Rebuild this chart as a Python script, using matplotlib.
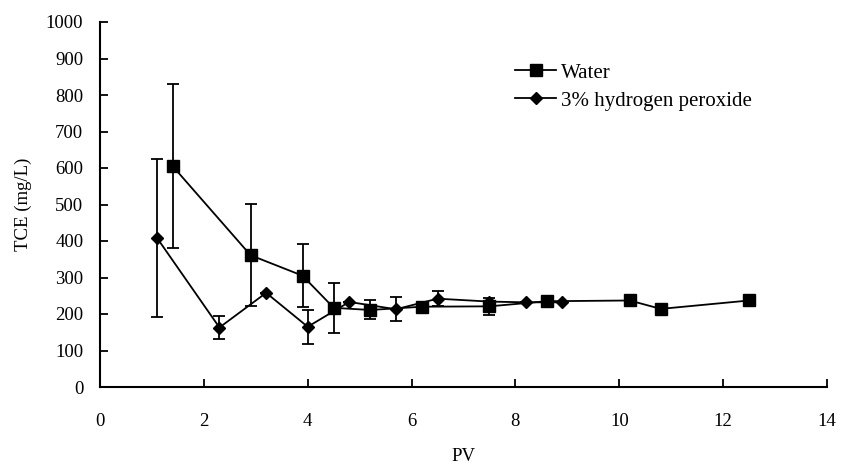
import matplotlib
matplotlib.use("Agg")
import matplotlib.pyplot as plt

# -----------------------------
# DATA
# -----------------------------
water_pv = [1.4, 2.9, 3.9, 4.5, 5.2, 6.2, 7.5, 8.6, 10.2, 10.8, 12.5]
water_tce = [605, 361, 305, 217, 211, 220, 221, 235, 237, 214, 237]
water_err = [225, 140, 87, 69, 26, 0, 24, 0, 0, 0, 0]

h2o2_pv = [1.1, 2.3, 3.2, 4.0, 4.8, 5.7, 6.5, 7.5, 8.2, 8.9]
h2o2_tce = [408, 163, 258, 165, 233, 213, 242, 234, 232, 232]
h2o2_err = [216, 31, 0, 46, 0, 33, 21, 0, 0, 0]

x_ticks = [0, 2, 4, 6, 8, 10, 12, 14]
y_ticks = [0, 100, 200, 300, 400, 500, 600, 700, 800, 900, 1000]

plt.rcParams["font.family"] = ["Liberation Serif", "DejaVu Serif"]
plt.rcParams["font.size"] = 13.5

# -----------------------------
# PLOT
# -----------------------------
fig = plt.figure(figsize=(8.44, 4.68), dpi=100)
ax = fig.add_axes([100 / 844, 1 - 387 / 468, 727 / 844, 365 / 468])

ax.errorbar(water_pv, water_tce, yerr=water_err, color="black", marker="s",
            markersize=8.5, linewidth=1.3, elinewidth=1.3, capsize=4,
            capthick=1.3, label="Water")
ax.errorbar(h2o2_pv, h2o2_tce, yerr=h2o2_err, color="black", marker="D",
            markersize=6, linewidth=1.3, elinewidth=1.3, capsize=4,
            capthick=1.3, label="3% hydrogen peroxide")

ax.set_xlim(0, 14)
ax.set_ylim(0, 1000)
ax.set_xticks(x_ticks)
ax.set_yticks(y_ticks)
ax.tick_params(direction="in", length=6, width=1.3)
ax.tick_params(axis="x", pad=19)
ax.tick_params(axis="y", pad=12)

for side in ["top", "right"]:
    ax.spines[side].set_visible(False)
for side in ["left", "bottom"]:
    ax.spines[side].set_linewidth(1.5)

ax.set_xlabel("PV", labelpad=13)
ax.set_ylabel("TCE (mg/L)", labelpad=10)

# legend without error bars in the handles
handles, labels = ax.get_legend_handles_labels()
handles = [h[0] for h in handles]
ax.legend(handles, labels, loc="upper left", bbox_to_anchor=(0.559, 0.91),
          frameon=False, fontsize=15, handlelength=2.0, handletextpad=0.2,
          labelspacing=0.4, borderaxespad=0)

fig.savefig("out.png", dpi=100)
